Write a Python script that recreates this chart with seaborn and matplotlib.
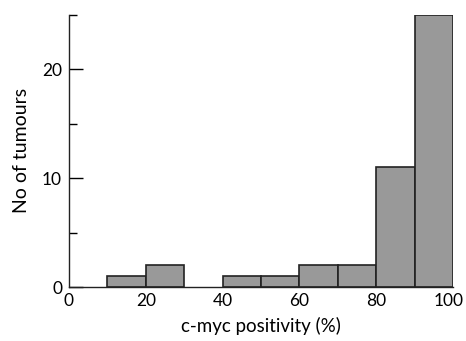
import numpy as np
import matplotlib
matplotlib.use("Agg")
import matplotlib.pyplot as plt
import matplotlib.transforms as mtransforms
import seaborn as sns
from matplotlib.ticker import MultipleLocator

# bin centres (c-myc positivity %) and number of tumours per 10% bin
bin_centres = [5, 15, 25, 35, 45, 55, 65, 75, 85, 95]
tumour_counts = [0, 1, 2, 0, 1, 1, 2, 2, 11, 25]
bin_edges = list(range(0, 101, 10))

sns.set_theme(style="ticks")
plt.rcParams['font.family'] = ['Lato', 'DejaVu Sans']
plt.rcParams['text.color'] = 'black'
plt.rcParams['axes.labelcolor'] = 'black'
plt.rcParams['xtick.color'] = 'black'
plt.rcParams['ytick.color'] = 'black'

fig = plt.figure(figsize=(4.66, 3.41), dpi=100)
ax = fig.add_axes([0.148, 0.158, 0.824, 0.799])

sns.histplot(x=bin_centres, weights=tumour_counts, bins=bin_edges,
             color="#999999", edgecolor="#222222", linewidth=1.2, alpha=1, ax=ax)

# empty bins leave no outline
for p in ax.patches:
    if p.get_height() == 0:
        p.set_visible(False)

ax.set_xlim(0, 100)
ax.set_ylim(0, 25)
ax.set_xticks([0, 20, 40, 60, 80, 100])
ax.set_yticks([0, 10, 20])
ax.yaxis.set_minor_locator(MultipleLocator(5))
ax.tick_params(axis='y', which='major', direction='in', length=10, width=1, labelsize=12.5, pad=5)
ax.tick_params(axis='y', which='minor', direction='in', length=6, width=1)
ax.tick_params(axis='x', length=0, labelsize=12.5, pad=4)

# nudge the last x label so it stays inside the figure
last = ax.get_xticklabels()[-1]
last.set_transform(last.get_transform() + mtransforms.ScaledTranslation(-4 / 100, 0, fig.dpi_scale_trans))

ax.set_xlabel("c-myc positivity (%)", fontsize=13.5, labelpad=6)
ax.set_ylabel("No of tumours", fontsize=14, labelpad=9)

sns.despine(ax=ax)
for s in ['left', 'bottom']:
    ax.spines[s].set_color('#222222')
    ax.spines[s].set_linewidth(1)

plt.savefig("out.png", dpi=100)
plt.close()
